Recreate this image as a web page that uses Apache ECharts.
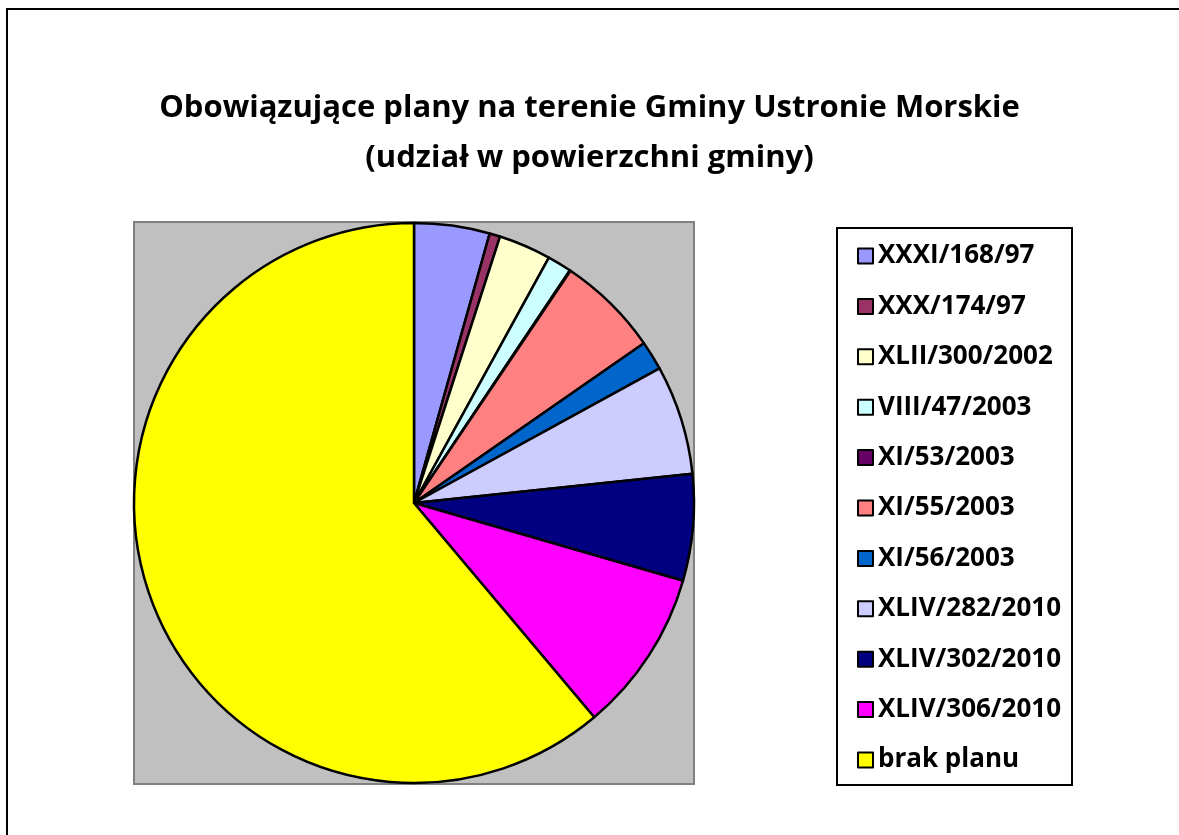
<!DOCTYPE html>
<html>
<head>
<meta charset="utf-8">
<script src="https://cdn.jsdelivr.net/npm/echarts@6/dist/echarts.min.js"></script>
<style>
  html, body { margin: 0; padding: 0; background: #fff; }
  #chart { width: 1179px; height: 835px; }
</style>
</head>
<body>
<div id="chart"></div>
<script>
// plan names (legend order) and their share of the area, in percent
const plans = [
  'XXXI/168/97', 'XXX/174/97', 'XLII/300/2002', 'VIII/47/2003', 'XI/53/2003',
  'XI/55/2003', 'XI/56/2003', 'XLIV/282/2010', 'XLIV/302/2010', 'XLIV/306/2010',
  'brak planu'
]
const shares = [4.36, 0.61, 3.03, 1.39, 0.05, 5.89, 1.69, 6.32, 6.14, 9.39, 61.13]
const colors = [
  '#9999FF', '#993366', '#FFFFCC', '#CCFFFF', '#660066',
  '#FF8080', '#0066CC', '#CCCCFF', '#000080', '#FF00FF', '#FFFF00'
]

const font = '"Open Sans", Lato, sans-serif'
const chart = echarts.init(document.getElementById('chart'))

chart.setOption({
  animation: false,
  color: colors,
  title: {
    text: 'Obowiązujące plany na terenie Gminy Ustronie Morskie\n(udział w powierzchni gminy)',
    left: 'center',
    top: 78,
    textStyle: {
      fontFamily: font,
      fontWeight: 'bold',
      fontSize: 31,
      lineHeight: 50,
      color: '#000'
    }
  },
  graphic: [
    // outer chart border, only the left and top edges are on screen
    { type: 'polyline', shape: { points: [[7, 845], [7, 9], [1185, 9]] },
      style: { fill: null, stroke: '#000', lineWidth: 2 }, z: 0 },
    // plot area
    { type: 'rect', shape: { x: 134, y: 222, width: 560, height: 562 },
      style: { fill: '#C0C0C0', stroke: '#808080', lineWidth: 2 }, z: 0 },
    // legend box
    { type: 'rect', shape: { x: 837, y: 228, width: 235, height: 557 },
      style: { fill: '#fff', stroke: '#000', lineWidth: 2 }, z: 0 }
  ],
  legend: {
    orient: 'vertical',
    left: 852,
    top: 238,
    height: 600,
    itemWidth: 15,
    itemHeight: 15,
    itemGap: 24.4,
    icon: 'rect',
    data: plans,
    itemStyle: { borderColor: '#000', borderWidth: 2 },
    textStyle: {
      fontFamily: font,
      fontWeight: 'bold',
      fontSize: 26,
      color: '#000'
    }
  },
  series: [{
    type: 'pie',
    center: [414, 503],
    radius: 280,
    startAngle: 90,
    clockwise: true,
    label: { show: false },
    labelLine: { show: false },
    emphasis: { disabled: true },
    itemStyle: { borderColor: '#000', borderWidth: 2.5 },
    data: plans.map((name, i) => ({ name, value: shares[i] }))
  }]
})
</script>
</body>
</html>
